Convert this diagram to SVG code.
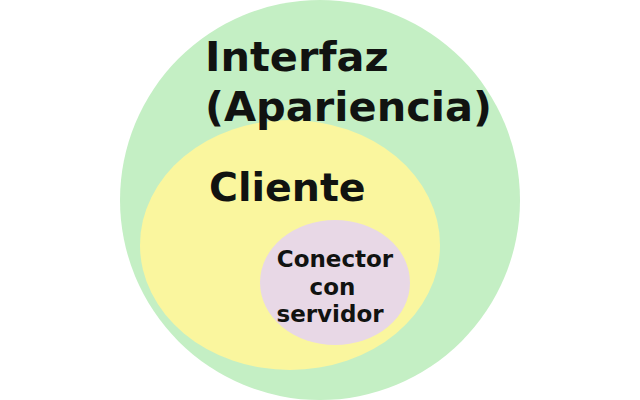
<svg xmlns="http://www.w3.org/2000/svg" width="640" height="400" viewBox="0 0 640 400">
<style>
text{font-family:"DejaVu Sans","Noto Sans",sans-serif;font-weight:bold;fill:#111311}
.big{font-size:41.5px}
.small{font-size:23px;text-anchor:middle}
</style>
<rect width="640" height="400" fill="#ffffff"/>
<g id="interfaz">
<circle cx="320" cy="200" r="200" fill="#c4efc4"/>
</g>
<g id="cliente">
<ellipse cx="290" cy="245" rx="150" ry="125" fill="#faf69e"/>
</g>
<g id="conector">
<ellipse cx="335" cy="282.5" rx="75" ry="62.5" fill="#e8d8e6"/>
</g>
<g id="labels">
<text class="big" x="205" y="71">Interfaz</text>
<text class="big" x="205" y="121">(Apariencia)</text>
<text class="big" x="209" y="200.5" style="font-size:39.5px">Cliente</text>
<text class="small" x="335" y="267">Conector</text>
<text class="small" x="332.5" y="295">con</text>
<text class="small" x="330" y="322">servidor</text>
</g>
<g id="connectors"/>
</svg>
